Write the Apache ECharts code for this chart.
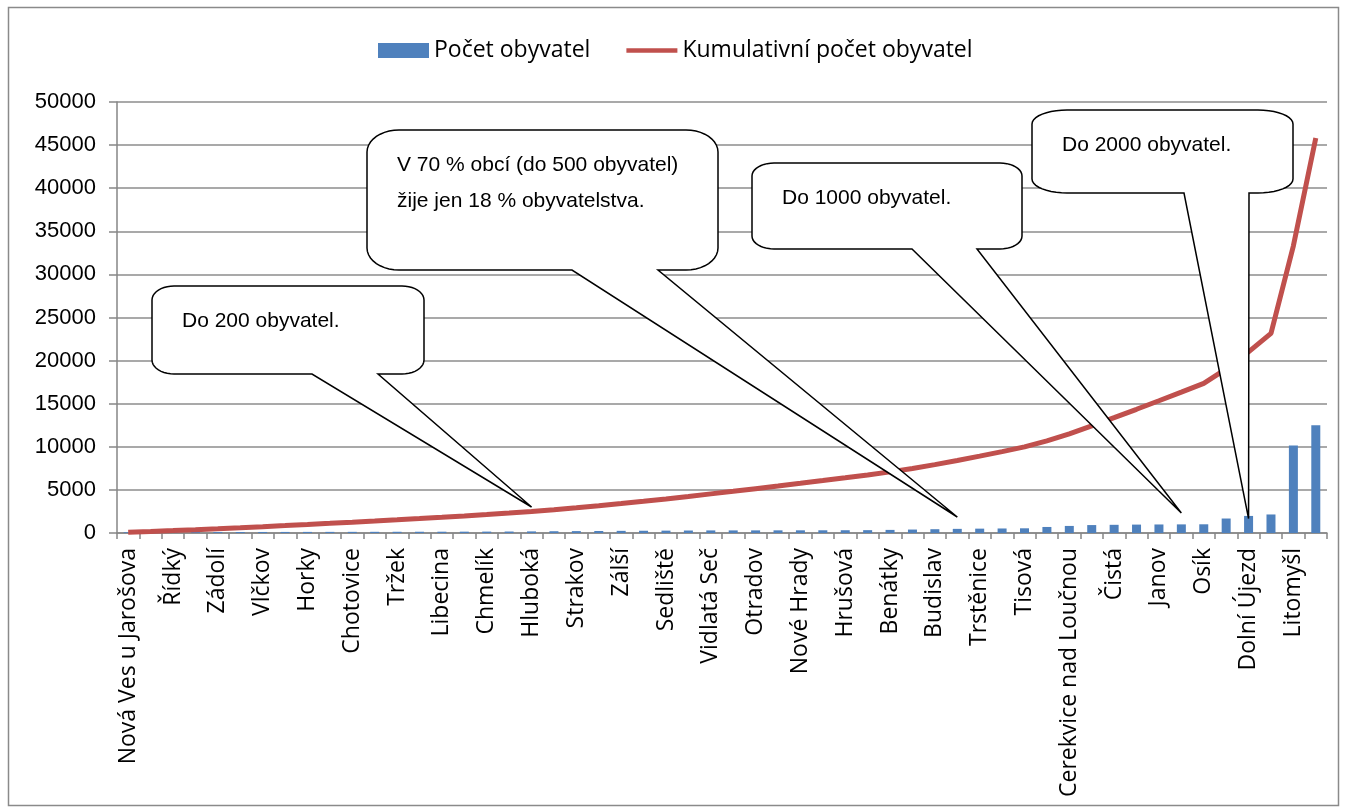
<!DOCTYPE html>
<html>
<head>
<meta charset="utf-8">
<script src="https://cdn.jsdelivr.net/npm/echarts@6/dist/echarts.min.js"></script>
<style>
html, body { margin: 0; padding: 0; background: #fff; }
#chart { width: 1346px; height: 811px; }
</style>
</head>
<body>
<div id="chart"></div>
<script>
// obce seřazené podle počtu obyvatel (popisky jen u každé druhé)
const obce = [
  'Nová Ves u Jarošova', 'Suchá Lhota', 'Řídký', 'Pohodlí', 'Zádolí', 'Karle',
  'Vlčkov', 'Desná', 'Horky', 'Morašice', 'Chotovice', 'Makov',
  'Tržek', 'Bohuňovice', 'Libecina', 'Mikuleč', 'Chmelík', 'Příluka',
  'Hluboká', 'Nová Sídla', 'Strakov', 'Jiříkov', 'Zálší', 'Poříčí u Litomyšle',
  'Sedliště', 'Němčice', 'Vidlatá Seč', 'Kornice', 'Otradov', 'Dětřichov',
  'Nové Hrady', 'Újezdec', 'Hrušová', 'Jaroměřice', 'Benátky', 'Javorník',
  'Budislav', 'Mladočov', 'Trstěnice', 'Horní Újezd', 'Tisová', 'Sedlec',
  'Cerekvice nad Loučnou', 'Lezník', 'Čistá', 'Sebranice', 'Janov', 'Lubná',
  'Osík', 'Sloupnice', 'Dolní Újezd', 'Dolní Čermná', 'Litomyšl', 'Vysoké Mýto'
]

const pocetObyvatel = [
  85, 95, 102, 108, 112, 116, 120, 124, 128, 131,
  134, 138, 142, 146, 150, 155, 162, 170, 185, 205,
  220, 235, 250, 262, 275, 288, 300, 302, 305, 308,
  311, 316, 322, 330, 360, 400, 440, 480, 505, 525,
  545, 700, 820, 920, 950, 975, 990, 1000, 1010, 1680,
  1980, 2150, 10150, 12500
]

const kumulativniPocet = [
  85, 180, 282, 390, 502, 618, 738, 862, 990, 1121,
  1255, 1393, 1535, 1681, 1831, 1986, 2148, 2318, 2503, 2708,
  2928, 3163, 3413, 3675, 3950, 4238, 4538, 4840, 5145, 5453,
  5764, 6080, 6402, 6732, 7092, 7492, 7932, 8412, 8917, 9442,
  9987, 10687, 11507, 12427, 13377, 14352, 15342, 16342, 17352, 19032,
  21012, 23162, 33312, 45812
]

const yMin = 0
const yMax = 50000
const yKrok = 5000

// bubliny s komentáři: tip = [index obce, hodnota], kam ukazuje špička
const bubliny = [
  { text: ['Do 200 obyvatel.'], box: [152, 286, 272, 88], base: [312, 378], tip: [18.29, 3016], r: [22, 14] },
  { text: ['V 70 % obcí (do 500 obyvatel)', 'žije jen 18 % obyvatelstva.'], box: [367, 130, 351, 140], base: [572, 658], tip: [36.78, 1856], r: [32, 22] },
  { text: ['Do 1000 obyvatel.'], box: [752, 163, 270, 86], base: [912, 977], tip: [47.49, 2320], r: [22, 13] },
  { text: ['Do 2000 obyvatel.'], box: [1032, 110, 261, 83], base: [1184, 1249], tip: [50.25, 1670], r: [35, 14] }
]

const chart = echarts.init(document.getElementById('chart'))

chart.setOption({
  animation: false,
  backgroundColor: '#fff',
  legend: {
    left: 373,
    top: 34,
    itemWidth: 51,
    itemHeight: 15,
    itemGap: 36,
    textStyle: { fontFamily: 'Open Sans', fontSize: 23, color: '#000' },
    data: [
      { name: 'Počet obyvatel', icon: 'rect' },
      { name: 'Kumulativní počet obyvatel', icon: 'path://M0,0M0,5L56,5L56,10L0,10ZM56,15' }
    ]
  },
  grid: { left: 117, right: 19, top: 102, bottom: 278 },
  xAxis: {
    type: 'category',
    data: obce,
    boundaryGap: true,
    axisLine: { lineStyle: { color: '#868686', width: 1.5 } },
    axisTick: { show: true, interval: 0, length: 6, lineStyle: { color: '#868686', width: 1.5 } },
    axisLabel: {
      interval: 1,
      rotate: 90,
      margin: 15,
      fontFamily: 'Open Sans',
      fontSize: 23,
      color: '#000'
    }
  },
  yAxis: {
    type: 'value',
    min: yMin,
    max: yMax,
    interval: yKrok,
    axisLine: { show: true, lineStyle: { color: '#868686', width: 1.5 } },
    axisTick: { show: true, length: 8, lineStyle: { color: '#868686', width: 1.5 } },
    axisLabel: {
      margin: 21,
      fontFamily: 'Liberation Sans',
      fontSize: 22,
      color: '#000',
      formatter: v => String(v)
    },
    splitLine: { lineStyle: { color: '#8c8c8c', width: 1.5 } }
  },
  series: [
    {
      name: 'Počet obyvatel',
      type: 'bar',
      data: pocetObyvatel,
      barWidth: 9,
      itemStyle: { color: '#4F81BD' }
    },
    {
      name: 'Kumulativní počet obyvatel',
      type: 'line',
      data: kumulativniPocet,
      symbol: 'none',
      smooth: false,
      z: 3,
      lineStyle: { color: '#C0504D', width: 5 },
      itemStyle: { color: '#C0504D' }
    }
  ]
})

// tvar bubliny: zaoblený obdélník se špičkou ze spodní hrany
function oblouk(pts, cx, cy, rx, ry, a0, a1) {
  const n = 10
  for (let i = 0; i <= n; i++) {
    const a = (a0 + (a1 - a0) * i / n) * Math.PI / 180
    pts.push([cx + rx * Math.cos(a), cy + ry * Math.sin(a)])
  }
}

function bublinaBody(b, tip) {
  const [x, y, w, h] = b.box
  const [rx, ry] = b.r
  const [b1, b2] = b.base
  const pts = []
  oblouk(pts, x + w - rx, y + ry, rx, ry, -90, 0)
  oblouk(pts, x + w - rx, y + h - ry, rx, ry, 0, 90)
  pts.push([b2, y + h], [tip[0], tip[1]], [b1, y + h])
  oblouk(pts, x + rx, y + h - ry, rx, ry, 90, 180)
  oblouk(pts, x + rx, y + ry, rx, ry, 180, 270)
  return pts
}

const graphic = [
  {
    type: 'rect',
    shape: { x: 8.5, y: 7.5, width: 1330, height: 798 },
    style: { fill: 'none', stroke: '#8a8a8a', lineWidth: 1.5 },
    silent: true,
    z: 0
  }
]

bubliny.forEach(b => {
  const tip = chart.convertToPixel({ gridIndex: 0 }, b.tip)
  graphic.push({
    type: 'polygon',
    shape: { points: bublinaBody(b, tip) },
    style: { fill: '#fff', stroke: '#000', lineWidth: 1.5, lineJoin: 'miter' },
    z: 100
  })
  b.text.forEach((t, i) => {
    graphic.push({
      type: 'text',
      x: b.box[0] + 30,
      y: b.box[1] + 46 + i * 36,
      style: {
        text: t,
        font: '21px "Liberation Sans"',
        fill: '#000',
        verticalAlign: 'bottom'
      },
      z: 101
    })
  })
})

chart.setOption({ graphic: graphic })
</script>
</body>
</html>
